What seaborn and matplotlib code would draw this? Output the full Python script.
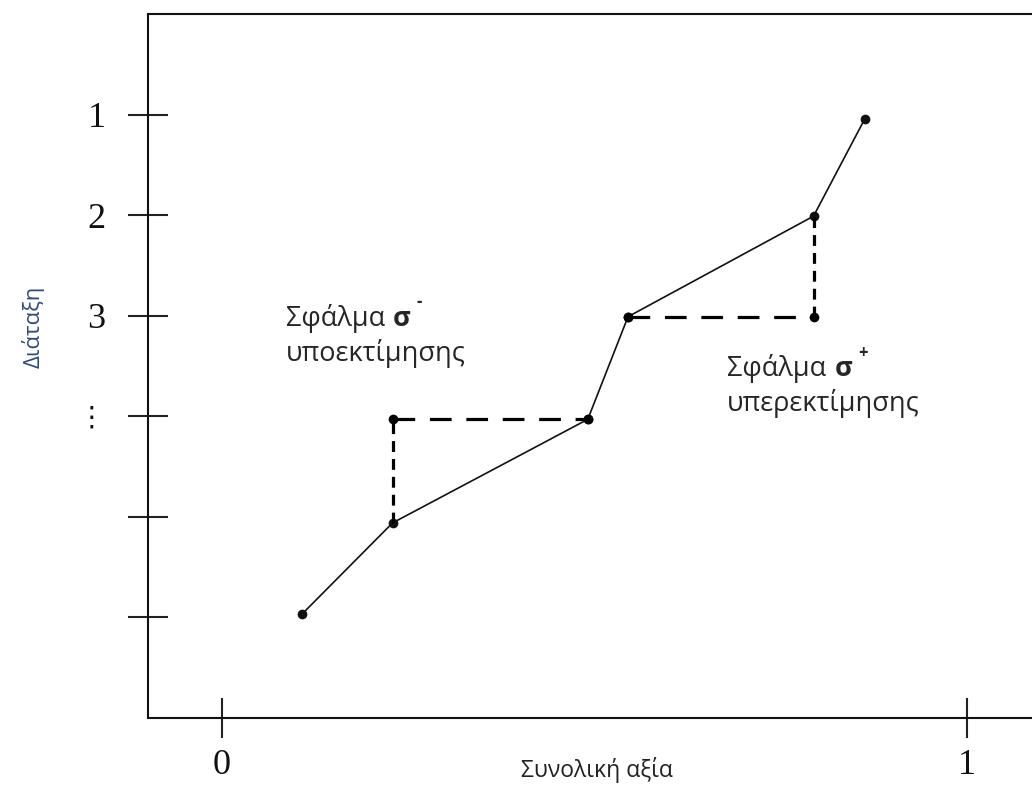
import matplotlib
matplotlib.use('Agg')
import matplotlib.pyplot as plt
import seaborn as sns

# curve of estimated vs. true ranking
total_value = [0.107, 0.229, 0.491, 0.545, 0.794, 0.863]
rank = [5.97, 5.06, 4.03, 3.01, 2.01, 1.04]

# under-estimation error (sigma-): vertical then horizontal
under_v_x = [0.229, 0.229]
under_v_y = [5.06, 4.03]
under_h_x = [0.229, 0.491]
under_h_y = [4.03, 4.03]

# over-estimation error (sigma+)
over_h_x = [0.545, 0.794]
over_h_y = [3.01, 3.01]
over_v_x = [0.794, 0.794]
over_v_y = [3.01, 2.01]

y_ticks = [1, 2, 3, 4, 5, 6]
y_ticklabels = ['1', '2', '3', '⋮', '', '']
x_ticks = [0, 1]
x_ticklabels = ['0', '1']

sns.set_style('white')
plt.rcParams['font.family'] = ['Open Sans', 'DejaVu Sans']

fig = plt.figure(figsize=(10.32, 7.85), dpi=100)
ax = fig.add_axes([148 / 1032, 67 / 785, 884 / 1032, 704 / 785])

sns.lineplot(x=total_value, y=rank, sort=False, estimator=None, color='#111111',
             lw=1.2, marker='o', markersize=7, markeredgewidth=0, ax=ax)

sns.lineplot(x=under_v_x, y=under_v_y, sort=False, estimator=None, color='black',
             lw=2.3, linestyle=(0, (3.4, 2.2)), ax=ax)
sns.lineplot(x=under_h_x, y=under_h_y, sort=False, estimator=None, color='black',
             lw=2.3, linestyle=(0, (6.8, 4.6)), marker='o', markersize=7,
             markeredgewidth=0, ax=ax)
sns.lineplot(x=over_h_x, y=over_h_y, sort=False, estimator=None, color='black',
             lw=2.3, linestyle=(0, (6.8, 4.6)), marker='o', markersize=7,
             markeredgewidth=0, ax=ax)
sns.lineplot(x=over_v_x, y=over_v_y, sort=False, estimator=None, color='black',
             lw=2.3, linestyle=(0, (3.4, 2.2)), ax=ax)

ax.set_xlim(-74 / 745, 810 / 745)
ax.set_ylim(7, 0)

ax.set_yticks(y_ticks)
ax.set_yticklabels(y_ticklabels, family=['Liberation Serif', 'DejaVu Sans'],
                   fontsize=26, color='#111111')
ax.get_yticklabels()[3].set_fontsize(20)
ax.set_xticks(x_ticks)
ax.set_xticklabels(x_ticklabels, family=['Liberation Serif', 'DejaVu Sans'],
                   fontsize=26, color='#111111')
ax.tick_params(axis='y', left=True, direction='inout', length=29, width=1.5,
               color='#222222', pad=16)
ax.tick_params(axis='x', bottom=True, direction='inout', length=29, width=1.5,
               color='#222222', pad=8)

for side in ['left', 'bottom', 'top']:
    ax.spines[side].set_linewidth(1.5)
    ax.spines[side].set_color('#111111')
ax.spines['right'].set_visible(False)

ax.set_xlabel('Συνολική αξία', fontsize=16.5, color='#222222')
ax.xaxis.label.set_va('center')
ax.xaxis.set_label_coords(449 / 884, -52 / 704)
ax.set_ylabel('Διάταξη', fontsize=16, color='#2E4A7D')
ax.yaxis.label.set_va('center')
ax.yaxis.set_label_coords(-115 / 884, 391 / 704)

# annotations
ax.text(0.086, 3.10, 'Σφάλμα', fontsize=19.5, va='baseline', ha='left')
ax.text(0.2295, 3.10, 'σ', fontsize=19.5, fontweight='bold', va='baseline', ha='left')
ax.text(0.265, 2.86, '-', fontsize=12, fontweight='bold', va='center', ha='center')
ax.text(0.086, 3.45, 'υποεκτίμησης', fontsize=19.5, va='baseline', ha='left')

ax.text(0.678, 3.60, 'Σφάλμα', fontsize=19.5, va='baseline', ha='left')
ax.text(0.823, 3.60, 'σ', fontsize=19.5, fontweight='bold', va='baseline', ha='left')
ax.text(0.860, 3.37, '+', fontsize=12, fontweight='bold', va='center', ha='center')
ax.text(0.678, 3.945, 'υπερεκτίμησης', fontsize=19.5, va='baseline', ha='left')

plt.savefig('out.png', dpi=100)
